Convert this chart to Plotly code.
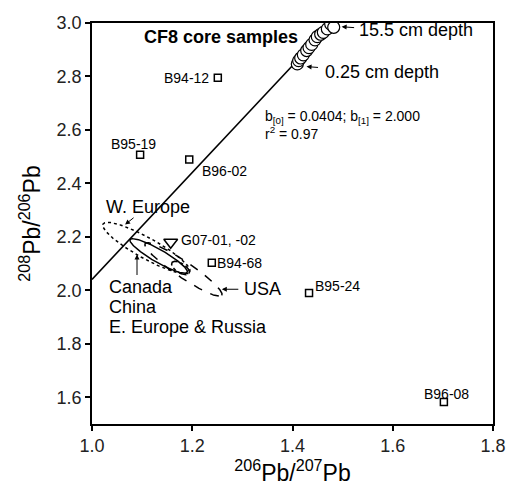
import numpy as np
import plotly.graph_objects as go

# ---- data ----
core_x = [1.4096, 1.4123, 1.4163, 1.4216, 1.4283, 1.4329, 1.4383, 1.4449,
          1.4495, 1.4562, 1.4615, 1.4695, 1.4762, 1.4822]
core_y = [2.847, 2.859, 2.869, 2.881, 2.897, 2.908, 2.920, 2.937,
          2.949, 2.958, 2.965, 2.978, 2.996, 2.984]

sq_names = ["B94-12", "B95-19", "B96-02", "B94-68", "B95-24", "B96-08"]
sq_x = [1.251, 1.096, 1.194, 1.239, 1.433, 1.702]
sq_y = [2.795, 2.507, 2.489, 2.103, 1.990, 1.582]

tri_name = "G07-01, -02"
tri_x = [1.157]
tri_y = [2.180]

b0 = 0.0404
b1 = 2.000
fit_x = [1.0, 1.41]

# ellipses: major-axis endpoints (data) and semi-minor (fraction of plot)
ell_weu = ((1.022, 2.248), (1.195, 2.068), 0.026)
ell_can = ((1.076, 2.190), (1.190, 2.067), 0.016)
ell_usa = ((1.106, 2.175), (1.259, 1.981), 0.020)
ell_small = ((1.1596, 2.104), (1.1935, 2.063), 0.012)

region_lines = ["Canada", "China", "E. Europe &amp; Russia"]
region_y = [2.011, 1.937, 1.862]

x_ticks = [1.0, 1.2, 1.4, 1.6, 1.8]
y_ticks = [1.6, 1.8, 2.0, 2.2, 2.4, 2.6, 2.8, 3.0]
x_range = [1.0, 1.8]
y_range = [1.5, 3.0]

FONT = "Liberation Sans, Arial, sans-serif"


def ellipse(e, n=200):
    (x1, y1), (x2, y2), b = e
    xr = x_range[1] - x_range[0]
    yr = y_range[1] - y_range[0]
    u1, v1 = (x1 - x_range[0]) / xr, (y1 - y_range[0]) / yr
    u2, v2 = (x2 - x_range[0]) / xr, (y2 - y_range[0]) / yr
    cu, cv = (u1 + u2) / 2, (v1 + v2) / 2
    a = np.hypot(u2 - u1, v2 - v1) / 2
    th = np.arctan2(v2 - v1, u2 - u1)
    t = np.linspace(0, 2 * np.pi, n)
    uu = cu + a * np.cos(t) * np.cos(th) - b * np.sin(t) * np.sin(th)
    vv = cv + a * np.cos(t) * np.sin(th) + b * np.sin(t) * np.cos(th)
    return x_range[0] + uu * xr, y_range[0] + vv * yr


fig = go.Figure()

fig.add_trace(go.Scatter(x=fit_x, y=[b0 + b1 * v for v in fit_x], mode="lines",
                         line=dict(color="black", width=1.6), hoverinfo="skip"))

for e, dash in [(ell_weu, "dot"), (ell_can, "solid"), (ell_usa, "dash"), (ell_small, "dashdot")]:
    ex, ey = ellipse(e)
    fig.add_trace(go.Scatter(x=ex, y=ey, mode="lines",
                             line=dict(color="black", width=1.5, dash=dash), hoverinfo="skip"))

fig.add_trace(go.Scatter(x=sq_x, y=sq_y, mode="markers",
                         marker=dict(symbol="square-open", size=7, color="black",
                                     line=dict(width=1.5))))
fig.add_trace(go.Scatter(x=tri_x, y=tri_y, mode="markers",
                         marker=dict(symbol="triangle-down-open", size=12, color="black",
                                     line=dict(width=1.5))))
fig.add_trace(go.Scatter(x=core_x, y=core_y, mode="markers",
                         marker=dict(symbol="circle", size=12, color="white",
                                     line=dict(color="black", width=1.2))))

ann = []
label_pos = {
    "B94-12": ("right", -7, 0),
    "B95-19": ("center", -7, 11),
    "B96-02": ("left", 11, -11),
    "B94-68": ("left", 3, 0),
    "B95-24": ("left", 4, 7),
    "B96-08": ("center", 3, 8),
}
for n, x, y in zip(sq_names, sq_x, sq_y):
    xa, xs, ys = label_pos[n]
    ann.append(dict(x=x, y=y, text=n, showarrow=False, xanchor=xa, xshift=xs, yshift=ys,
                    font=dict(size=14)))
ann.append(dict(x=tri_x[0], y=tri_y[0], text=tri_name, showarrow=False, xanchor="left",
                xshift=8, yshift=2, font=dict(size=14)))

ann.append(dict(x=1.100, y=2.948, text="<b>CF8 core samples</b>", showarrow=False,
                xanchor="left", font=dict(size=18)))
ann.append(dict(x=1.529, y=2.973, text="15.5 cm depth", showarrow=False,
                xanchor="left", font=dict(size=18)))
ann.append(dict(x=1.461, y=2.817, text="0.25 cm depth", showarrow=False,
                xanchor="left", font=dict(size=18)))
ann.append(dict(x=1.341, y=2.649, text="b<sub>[0]</sub> = 0.0404; b<sub>[1]</sub> = 2.000",
                showarrow=False, xanchor="left", font=dict(size=14)))
ann.append(dict(x=1.341, y=2.590, text="r<sup>2</sup> = 0.97", showarrow=False,
                xanchor="left", font=dict(size=14)))
ann.append(dict(x=1.024, y=2.310, text="W. Europe", showarrow=False,
                xanchor="left", font=dict(size=18)))
for t, y in zip(region_lines, region_y):
    ann.append(dict(x=1.030, y=y, text=t, showarrow=False, xanchor="left",
                    font=dict(size=18)))
ann.append(dict(x=1.299, y=2.004, text="USA", showarrow=False, xanchor="left",
                font=dict(size=18)))

# arrows: (head x, head y, ax, ay)
arrows = [(1.498, 2.986, 14, 1), (1.428, 2.837, 13, 1), (1.066, 2.246, 10, -8),
          (1.0898, 2.134, 0, 22), (1.259, 2.004, 18, 0)]
for hx, hy, ax, ay in arrows:
    ann.append(dict(x=hx, y=hy, ax=ax, ay=ay, axref="pixel", ayref="pixel", text="",
                    showarrow=True, arrowhead=2, arrowsize=1, arrowwidth=1,
                    arrowcolor="black"))

axis_common = dict(showline=True, linecolor="black", linewidth=1.6, mirror=True,
                   ticks="outside", ticklen=5, tickwidth=1.5, tickcolor="black",
                   showgrid=False, zeroline=False, automargin=False,
                   tickfont=dict(size=18, color="#222"))

fig.update_layout(
    width=507, height=493,
    margin=dict(l=92, r=14, t=23, b=69),
    paper_bgcolor="white", plot_bgcolor="white",
    showlegend=False,
    font=dict(family=FONT, color="black"),
    annotations=ann,
    xaxis=dict(range=x_range, tickvals=x_ticks, tickformat=".1f",
               title=dict(text="<sup>206</sup>Pb/<sup>207</sup>Pb", font=dict(size=23),
                          standoff=4),
               **axis_common),
    yaxis=dict(range=y_range, tickvals=y_ticks, tickformat=".1f",
               title=dict(text="<sup>208</sup>Pb/<sup>206</sup>Pb", font=dict(size=23),
                          standoff=10),
               **axis_common),
)

fig.write_html(
    "out.html",
    config={"displayModeBar": False},
    post_script=("document.body.style.margin='0';"
                 "document.body.style.overflow='hidden';"
                 "document.documentElement.style.overflow='hidden';"),
)
